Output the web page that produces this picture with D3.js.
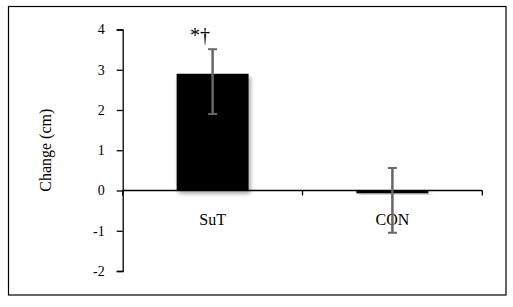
<!DOCTYPE html>
<html><head><meta charset="utf-8">
<script src="https://cdn.jsdelivr.net/npm/d3@7"></script>
<style>html,body{margin:0;padding:0;background:#fff;}svg{display:block;}</style>
</head><body>
<svg id="c" width="513" height="307"></svg>
<script>
const categories = ["SuT", "CON"];
const values = [2.9, -0.07];
const errUpper = [0.61, 0.63];
const errLower = [1.0, 0.98];
const yTicks = [-2, -1, 0, 1, 2, 3, 4];
const annotations = ["*\u2020", ""];
const yTitle = "Change (cm)";

(function(){
const svg = d3.select("#c");
const defs = svg.append("defs");
const f = defs.append("filter").attr("id","sh").attr("x","-20%").attr("y","-20%").attr("width","150%").attr("height","150%");
f.append("feDropShadow").attr("dx",2).attr("dy",3).attr("stdDeviation",2.2).attr("flood-color","#000").attr("flood-opacity",0.35);

svg.append("rect").attr("x",8.5).attr("y",6.5).attr("width",497.5).attr("height",288.5)
  .attr("fill","#fff").attr("stroke","#000").attr("stroke-width",1.2);

const pL = 122.7, pR = 482.3, pT = 29.5, pB = 271;
const y = d3.scaleLinear().domain([-2, 4]).range([pB, pT]);
const x = d3.scaleBand().domain(categories).range([pL, pR]).padding(0);
const barW = x.bandwidth() * 0.4;

const g = svg.append("g");
g.selectAll("rect.bar").data(categories).enter().append("rect")
  .attr("class","bar")
  .attr("x", d => x(d) + x.bandwidth()/2 - barW/2)
  .attr("width", barW)
  .attr("y", (d,i) => Math.min(y(values[i]), y(0)))
  .attr("height", (d,i) => Math.max(Math.abs(y(values[i]) - y(0)), 1))
  .attr("fill", "#000")
  .attr("filter", "url(#sh)");

const yAxis = d3.axisLeft(y).tickValues(yTicks).tickSize(6).tickPadding(12).tickFormat(d => String(d));
const ya = svg.append("g").attr("transform", `translate(${pL},0)`).call(yAxis);
ya.select(".domain").attr("stroke","#000").attr("stroke-width",1.3);
ya.selectAll(".tick line").attr("stroke","#000").attr("stroke-width",1.3);
ya.selectAll(".tick text").attr("font-family","'Liberation Serif', serif").attr("font-size",14).attr("fill","#000");

const xa = svg.append("g").attr("transform", `translate(0,${y(0)})`);
xa.append("line").attr("x1", pL).attr("x2", pR).attr("y1",0).attr("y2",0).attr("stroke","#000").attr("stroke-width",1.3);
const bounds = [pL].concat(categories.map(c => x(c) + x.bandwidth()));
xa.selectAll("line.t").data(bounds).enter().append("line").attr("class","t")
  .attr("x1", d=>d).attr("x2", d=>d).attr("y1",0).attr("y2",5).attr("stroke","#000").attr("stroke-width",1.3);

svg.selectAll("text.cat").data(categories).enter().append("text").attr("class","cat")
  .attr("x", d => x(d) + x.bandwidth()/2).attr("y", 225)
  .attr("text-anchor","middle").attr("font-family","'Liberation Serif', serif").attr("font-size",16).attr("fill","#000")
  .text(d => d);

const eb = svg.append("g").attr("stroke","#666").attr("fill","none");
categories.forEach((c,i) => {
  const cx = x(c) + x.bandwidth()/2;
  const yt = y(values[i] + errUpper[i]), yb = y(values[i] - errLower[i]);
  eb.append("line").attr("x1",cx).attr("x2",cx).attr("y1",yt).attr("y2",yb).attr("stroke-width",2.5);
  eb.append("line").attr("x1",cx-4.5).attr("x2",cx+4.5).attr("y1",yt).attr("y2",yt).attr("stroke-width",2);
  eb.append("line").attr("x1",cx-4.5).attr("x2",cx+4.5).attr("y1",yb).attr("y2",yb).attr("stroke-width",2);
});

svg.selectAll("text.ann").data(categories).enter().append("text").attr("class","ann")
  .attr("x", d => x(d) + x.bandwidth()/2 - 12.5).attr("y", 42)
  .attr("text-anchor","middle").attr("font-family","'Liberation Serif', serif").attr("font-size",20).attr("fill","#000")
  .text((d,i) => annotations[i]);

svg.append("text").attr("transform", `translate(51,${(pT+pB)/2}) rotate(-90)`)
  .attr("text-anchor","middle").attr("font-family","'Liberation Serif', serif").attr("font-size",16).attr("fill","#000")
  .text(yTitle);
})();
</script>
</body></html>
